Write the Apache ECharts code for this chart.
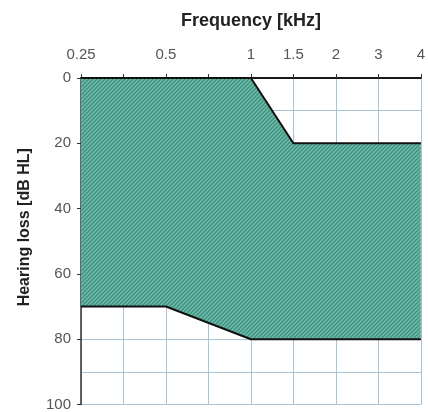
<!DOCTYPE html>
<html>
<head>
<meta charset="utf-8">
<script src="https://cdn.jsdelivr.net/npm/echarts@6/dist/echarts.min.js"></script>
<style>html,body{margin:0;padding:0;background:#fff}#c{width:428px;height:412px}</style>
</head>
<body>
<div id="c"></div>
<script>
// Tick labels by half-octave grid position (0.25 kHz ... 4 kHz)
const tickLabels = ['0.25', '', '0.5', '', '1', '1.5', '2', '3', '4'];
// Upper boundary of the shaded region (kHz, dB HL)
const upperFreq = ['0.25', '1', '1.5', '4'];
const upperDb = [0, 0, 20, 20];
// Lower boundary of the shaded region (kHz, dB HL)
const lowerFreq = ['0.25', '0.5', '1', '4'];
const lowerDb = [70, 70, 80, 80];
const yTicks = [0, 20, 40, 60, 80, 100];

const pos = f => tickLabels.indexOf(f);
const upperData = upperFreq.map((f, i) => [pos(f), upperDb[i]]);
const lowerData = lowerFreq.map((f, i) => [pos(f), lowerDb[i]]);

// hatch pattern
const pc = document.createElement('canvas');
pc.width = 4; pc.height = 4;
const g = pc.getContext('2d');
g.fillStyle = '#6bb9a9';
g.fillRect(0, 0, 4, 4);
g.strokeStyle = '#3d8b7b';
g.lineWidth = 1.2;
g.beginPath();
g.moveTo(0, 4); g.lineTo(4, 0);
g.moveTo(-1, 1); g.lineTo(1, -1);
g.moveTo(3, 5); g.lineTo(5, 3);
g.stroke();

const chart = echarts.init(document.getElementById('c'), null, {renderer: 'canvas'});
const font = 'Liberation Sans, Arial, sans-serif';
chart.setOption({
  animation: false,
  grid: {left: 81, top: 78, right: 1, bottom: 5, containLabel: false},
  xAxis: {
    type: 'value', position: 'top', min: 0, max: tickLabels.length - 1, interval: 1,
    name: 'Frequency [kHz]', nameLocation: 'middle', nameGap: 48,
    nameTextStyle: {fontFamily: font, fontSize: 18, fontWeight: 'bold', color: '#222'},
    axisLine: {show: true, lineStyle: {color: '#1a1a1a', width: 2}},
    axisTick: {show: true, inside: false, length: 4, lineStyle: {color: '#333'}},
    axisLabel: {fontFamily: font, fontSize: 15, color: '#555', margin: 16,
      alignMinLabel: 'center', alignMaxLabel: 'center',
      formatter: v => tickLabels[Math.round(v)] || ''},
    splitLine: {show: true, lineStyle: {color: '#a9c3d6', width: 1}}
  },
  yAxis: {
    type: 'value', inverse: true, min: 0, max: 100, interval: 20,
    name: 'Hearing loss [dB HL]', nameLocation: 'middle', nameGap: 48, nameRotate: 90,
    nameTextStyle: {fontFamily: font, fontSize: 16, fontWeight: 'bold', color: '#222',
      padding: [0, 0, 0, 28]},
    axisLine: {show: true, lineStyle: {color: '#333', width: 1.5}},
    axisTick: {show: true, inside: false, length: 4, lineStyle: {color: '#333'}},
    axisLabel: {fontFamily: font, fontSize: 15, color: '#555', margin: 10,
      formatter: v => yTicks.includes(v) ? String(v) : ''},
    splitLine: {show: true, lineStyle: {color: '#a9c3d6', width: 1}},
    minorTick: {show: false, splitNumber: 2},
    minorSplitLine: {show: true, lineStyle: {color: '#a9c3d6', width: 1}}
  },
  series: [
    {
      type: 'custom', clip: true, z: 2,
      data: [0],
      renderItem: (params, api) => {
        const pts = upperData.map(p => api.coord(p))
          .concat(lowerData.slice().reverse().map(p => api.coord(p)));
        return {type: 'polygon', shape: {points: pts},
          style: {fill: {image: pc, repeat: 'repeat'}, stroke: null}};
      }
    },
    {type: 'line', data: upperData, symbol: 'none', z: 3,
      lineStyle: {color: '#111', width: 2}},
    {type: 'line', data: lowerData, symbol: 'none', z: 3,
      lineStyle: {color: '#111', width: 2}}
  ]
});
</script>
</body>
</html>
